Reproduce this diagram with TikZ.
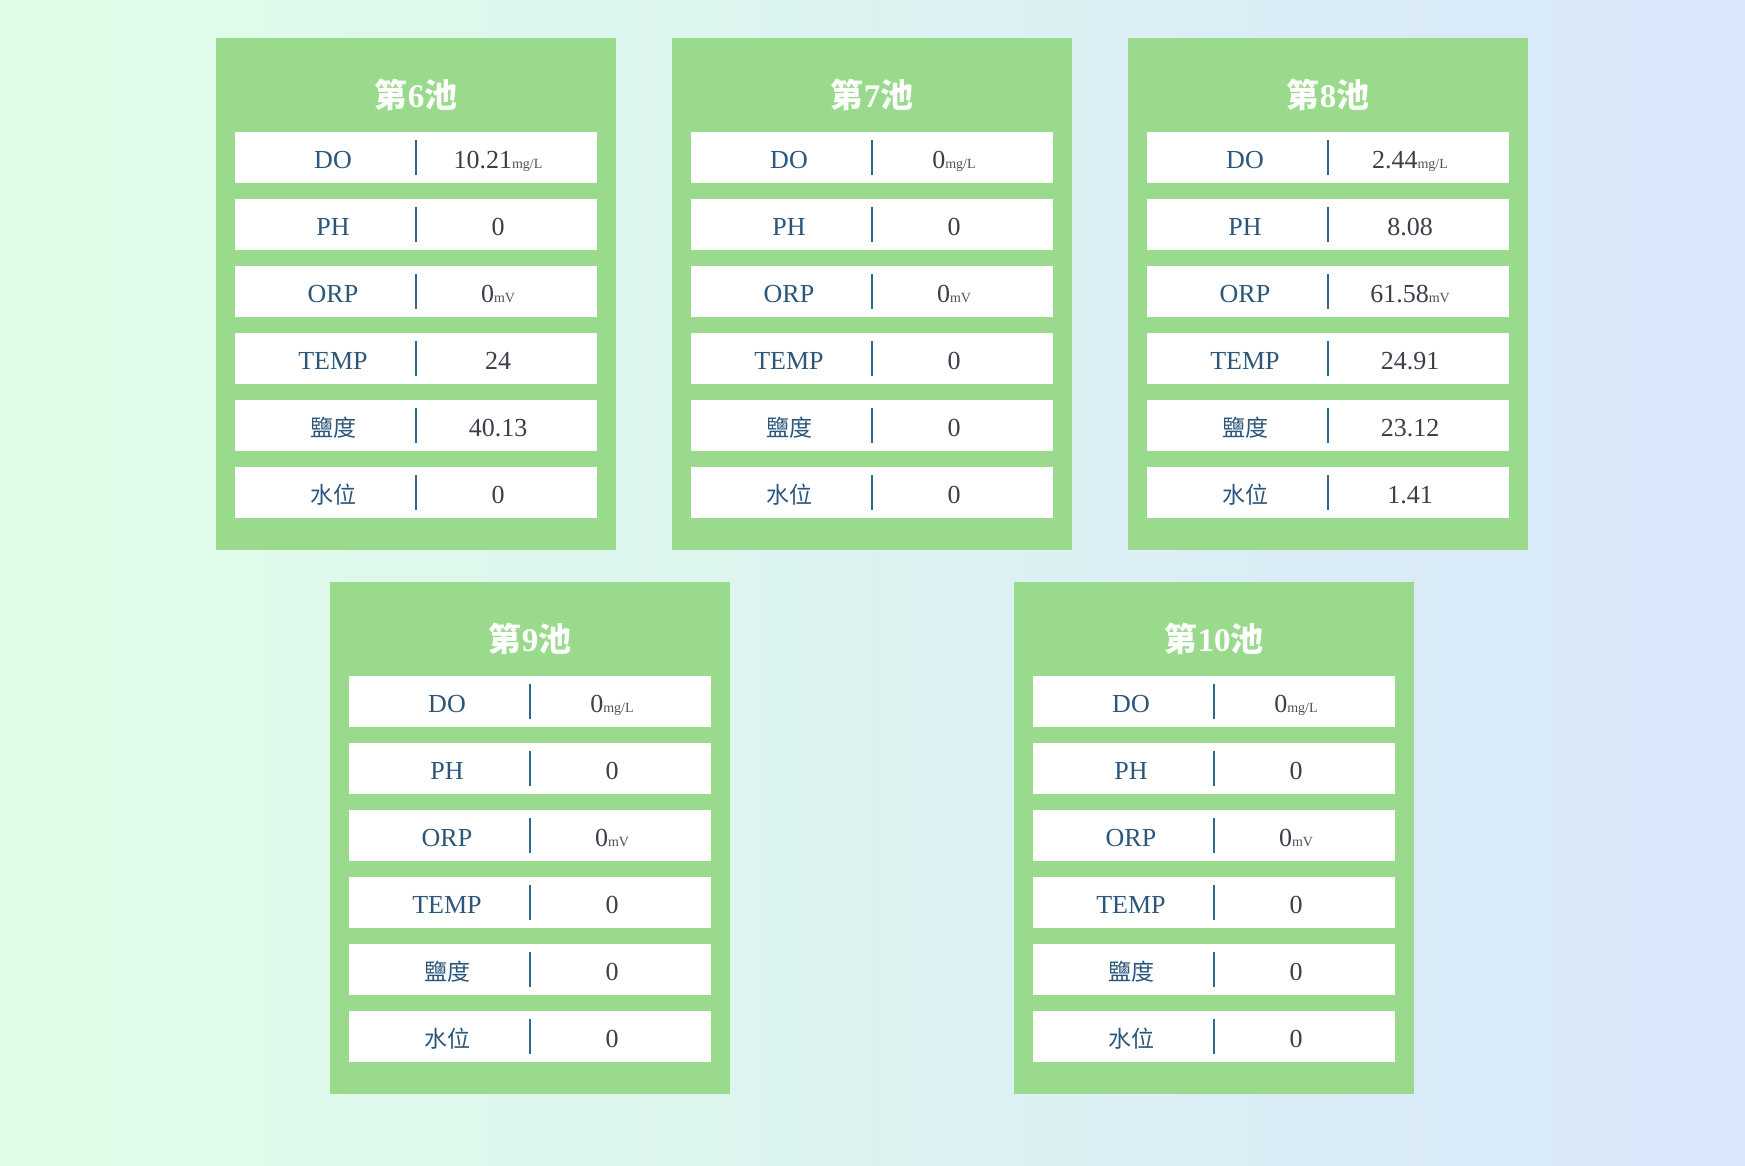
\documentclass[tikz,border=0pt]{standalone}
\usepackage{fontspec}
\setmainfont{Liberation Serif}
\newfontfamily\cjk{Noto Sans CJK TC}
\definecolor{bgL}{RGB}{224,254,231}
\definecolor{bgR}{RGB}{216,231,251}
\definecolor{cardg}{RGB}{154,218,140}
\definecolor{labc}{RGB}{44,86,122}
\definecolor{divc}{RGB}{42,106,140}
\definecolor{valc}{RGB}{62,62,74}
\definecolor{unitc}{RGB}{80,80,90}
\newcommand\mgL{{\fontsize{14}{14}\selectfont\color{unitc}mg/L}}
\newcommand\mV{{\fontsize{14}{14}\selectfont\color{unitc}mV}}
\newcommand\zh[1]{{\cjk\fontsize{23}{23}\selectfont #1}}
\newcommand\poolrow[6]{%
  \node[rowbox] (#1r#2) at (#3+200,#4+94+67*#2-67+25.5) {};
  \node[divbar] (#1r#2d) at (#3+200,#4+94+67*#2-67+25.5) {};
  \node[lab] (#1r#2l) at (#3+117,#4+94+67*#2-67+36) {#5};
  \node[val] (#1r#2v) at (#3+282,#4+94+67*#2-67+36) {#6};
}
\newcommand\poolcard[9]{%
  \node[card] (c#1) at (#2+200,#3+256) {};
  \node[ttl] (c#1t) at (#2+200,#3+69) {{\cjk 第}#1{\cjk 池}};
  \poolrow{c#1}{1}{#2}{#3}{DO}{#4\mgL}
  \poolrow{c#1}{2}{#2}{#3}{PH}{#5}
  \poolrow{c#1}{3}{#2}{#3}{ORP}{#6\mV}
  \poolrow{c#1}{4}{#2}{#3}{TEMP}{#7}
  \poolrow{c#1}{5}{#2}{#3}{\zh{鹽度}}{#8}
  \poolrow{c#1}{6}{#2}{#3}{\zh{水位}}{#9}
}
\begin{document}
\begin{tikzpicture}[x=1pt,y=-1pt,
  card/.style={fill=cardg,draw=none,minimum width=400pt,minimum height=512pt,inner sep=0pt},
  rowbox/.style={fill=white,draw=none,minimum width=362pt,minimum height=51pt,inner sep=0pt},
  divbar/.style={fill=divc,draw=none,minimum width=2.4pt,minimum height=35pt,inner sep=0pt},
  lab/.style={anchor=base,text=labc,inner sep=0pt,font=\fontsize{26}{26}\selectfont},
  val/.style={anchor=base,text=valc,inner sep=0pt,font=\fontsize{26}{26}\selectfont},
  ttl/.style={anchor=base,text=white,inner sep=0pt,font=\fontsize{33}{33}\selectfont\bfseries}]
\useasboundingbox (0,0) rectangle (1745,1165);
\shade[left color=bgL,right color=bgR] (0,0) rectangle (1745,1165);
\poolcard{6}{216}{38}{10.21}{0}{0}{24}{40.13}{0}
\poolcard{7}{672}{38}{0}{0}{0}{0}{0}{0}
\poolcard{8}{1128}{38}{2.44}{8.08}{61.58}{24.91}{23.12}{1.41}
\poolcard{9}{330}{582}{0}{0}{0}{0}{0}{0}
\poolcard{10}{1014}{582}{0}{0}{0}{0}{0}{0}
\end{tikzpicture}
\end{document}
